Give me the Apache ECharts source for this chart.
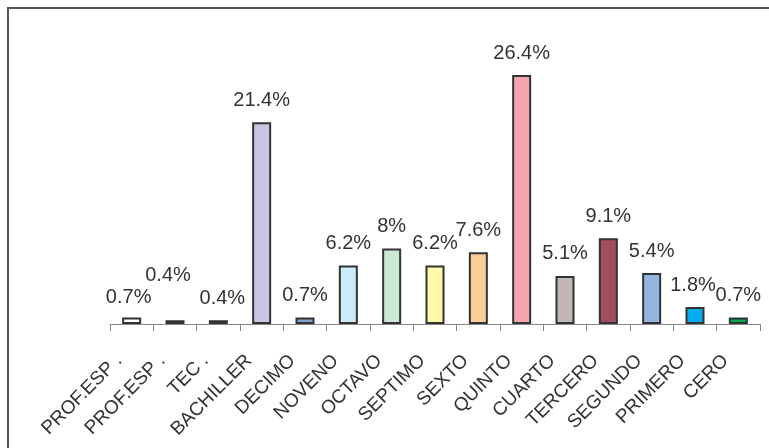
<!DOCTYPE html>
<html>
<head>
<meta charset="utf-8">
<title>Nivel educativo</title>
<script src="https://cdn.jsdelivr.net/npm/echarts@6/dist/echarts.min.js"></script>
<style>
  html, body { margin: 0; padding: 0; background: #ffffff; }
  #chart { width: 769px; height: 448px; }
</style>
</head>
<body>
<div id="chart"></div>
<script>
// Education level categories, left to right
const categories = ['PROF.ESP .', 'PROF.ESP .', 'TEC .', 'BACHILLER', 'DECIMO', 'NOVENO', 'OCTAVO',
  'SEPTIMO', 'SEXTO', 'QUINTO', 'CUARTO', 'TERCERO', 'SEGUNDO', 'PRIMERO', 'CERO'];

// Share of people at each level (%)
const percentages = [0.7, 0.4, 0.4, 21.4, 0.7, 6.2, 8, 6.2, 7.6, 26.4, 5.1, 9.1, 5.4, 1.8, 0.7];

// Fill colour of each bar
const barColors = ['#ffffff', '#8a9a3c', '#c4232f', '#c9c5e2', '#7fa2d6', '#cdebf8', '#cde8d6',
  '#fff7aa', '#fdcd99', '#f5a6ac', '#c1b7b6', '#a24d5e', '#95b5e0', '#00aeef', '#00a651'];

// Small nudges for value labels that would otherwise collide
const labelNudges = { 0: [-3, 2], 1: [-7, -23], 2: [4, 0], 13: [-2, 0] };

const chart = echarts.init(document.getElementById('chart'), null, { renderer: 'canvas' });

const seriesData = percentages.map((v, i) => {
  const item = { value: v, itemStyle: { color: barColors[i] } };
  if (labelNudges[i]) item.label = { offset: labelNudges[i] };
  return item;
});

chart.setOption({
  backgroundColor: '#ffffff',
  animation: false,
  graphic: [{
    type: 'polyline',
    shape: { points: [[8, 460], [8, 8], [780, 8]] },
    style: { stroke: '#555555', lineWidth: 2, fill: null }
  }],
  grid: { left: 110, right: 9, top: 60, bottom: 124, containLabel: false },
  xAxis: {
    type: 'category',
    data: categories,
    boundaryGap: true,
    axisLine: { lineStyle: { color: '#888888', width: 1 } },
    axisTick: { show: true, length: 7, lineStyle: { color: '#888888' } },
    axisLabel: {
      interval: 0,
      rotate: 45,
      margin: 21,
      padding: [0, 18, 0, 0],
      fontFamily: 'Liberation Sans, Arial, sans-serif',
      fontSize: 19,
      color: '#333333'
    }
  },
  yAxis: {
    type: 'value',
    min: 0,
    max: 28,
    show: false,
    splitLine: { show: false }
  },
  series: [{
    type: 'bar',
    data: seriesData,
    barWidth: 19,
    itemStyle: { borderColor: '#333333', borderWidth: 2 },
    label: {
      show: true,
      position: 'top',
      distance: 12,
      fontFamily: 'Liberation Sans, Arial, sans-serif',
      fontSize: 20,
      color: '#333333',
      formatter: p => p.value + '%'
    }
  }]
});
</script>
</body>
</html>
